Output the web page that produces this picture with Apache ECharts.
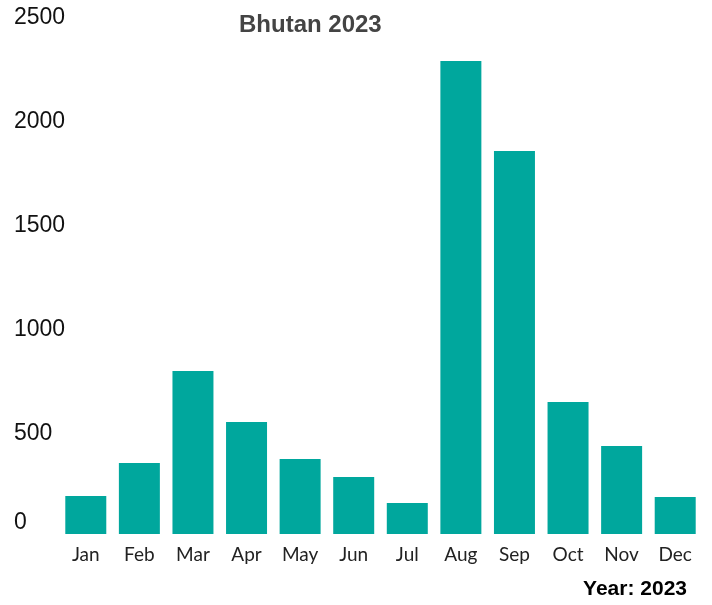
<!DOCTYPE html>
<html>
<head>
<meta charset="utf-8">
<script src="https://cdn.jsdelivr.net/npm/echarts@6/dist/echarts.min.js"></script>
<style>
  html, body { margin: 0; padding: 0; background: #fff; }
  #chart { width: 712px; height: 605px; }
</style>
</head>
<body>
<div id="chart"></div>
<script>
// months and monthly values for Bhutan 2023
var months = ['Jan', 'Feb', 'Mar', 'Apr', 'May', 'Jun', 'Jul', 'Aug', 'Sep', 'Oct', 'Nov', 'Dec'];
var values = [183, 341, 784, 538, 361, 274, 149, 2274, 1841, 635, 423, 178];
var yTicks = [0, 500, 1000, 1500, 2000, 2500];

var chart = echarts.init(document.getElementById('chart'));

var option = {
    animation: false,
    title: {
        text: 'Bhutan 2023',
        left: 234,
        top: 8,
        textStyle: {
            fontFamily: 'Liberation Sans',
            fontSize: 24,
            fontWeight: 'bold',
            color: '#444444'
        }
    },
    graphic: [{
        type: 'text',
        right: 25,
        top: 579,
        style: {
            text: 'Year: 2023',
            font: 'bold 21px "Liberation Sans"',
            fill: '#000000'
        }
    }],
    grid: { left: 59, right: 10, top: 14, bottom: 71 },
    xAxis: {
        type: 'category',
        data: months,
        axisLine: { show: false },
        axisTick: { show: false },
        axisLabel: {
            margin: 11,
            fontFamily: 'Lato',
            fontSize: 19,
            color: '#222222'
        }
    },
    yAxis: {
        type: 'value',
        min: yTicks[0],
        max: yTicks[yTicks.length - 1],
        interval: 500,
        splitLine: { show: false },
        axisLine: { show: false },
        axisTick: { show: false },
        axisLabel: {
            align: 'left',
            margin: 45,
            verticalAlign: 'middle',
            formatter: function (v) {
                return v === 0 ? '{z|0}' : '{n|' + v + '}';
            },
            rich: {
                n: { fontFamily: 'Liberation Sans', fontSize: 23, color: '#111111', padding: [8, 0, 0, 0] },
                z: { fontFamily: 'Liberation Sans', fontSize: 23, color: '#111111', padding: [0, 0, 22, 0] }
            }
        }
    },
    series: [{
        type: 'bar',
        data: values,
        barCategoryGap: '23.5%',
        itemStyle: { color: '#00A79D' }
    }]
};

chart.setOption(option);
</script>
</body>
</html>
